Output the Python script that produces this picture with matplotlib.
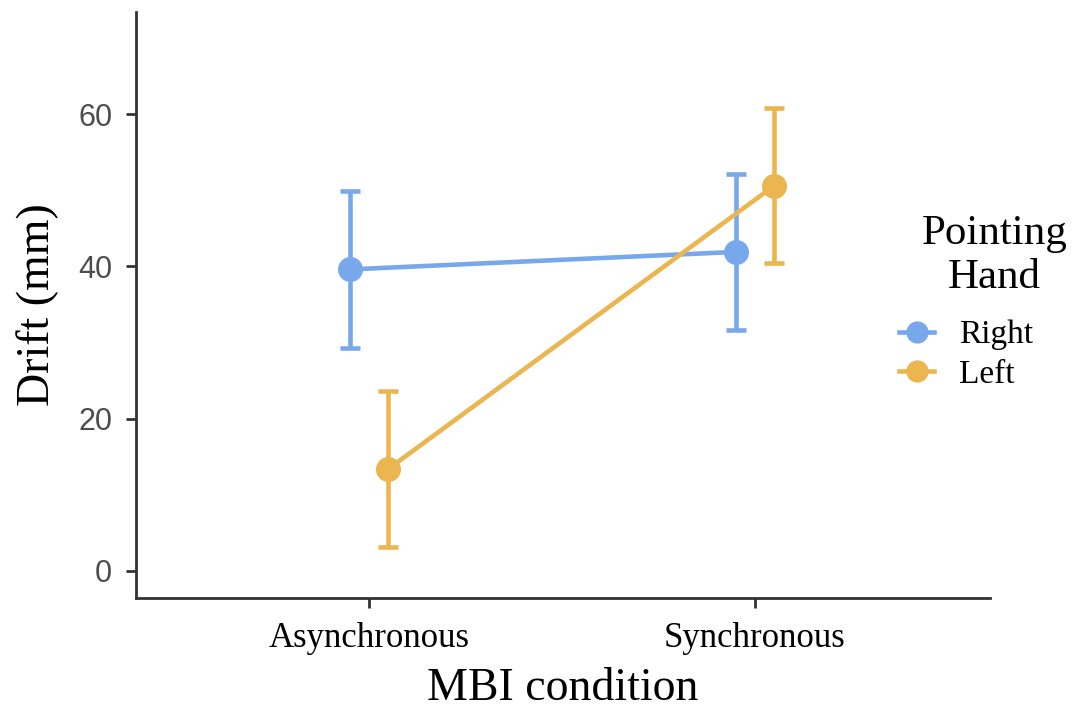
import numpy as np
import matplotlib.pyplot as plt
from matplotlib.lines import Line2D

# data
conditions = ["Asynchronous", "Synchronous"]
hands = ["Right", "Left"]
right_mean = [39.6, 41.9]
right_err = [10.3, 10.2]
left_mean = [13.4, 50.6]
left_err = [10.2, 10.2]

colors = {"Right": "#78A8EC", "Left": "#EBB54F"}
dodge = {"Right": -0.05, "Left": 0.05}
means = {"Right": right_mean, "Left": left_mean}
errs = {"Right": right_err, "Left": left_err}

serif = "Liberation Serif"
sans = "Liberation Sans"

fig = plt.figure(figsize=(10.73, 7.11), dpi=100)
ax = fig.add_axes([0.1267, 0.159, 0.7959, 0.824])

xpos = np.arange(1, len(conditions) + 1)
handles = []
for h in hands:
    x = xpos + dodge[h]
    ax.errorbar(x, means[h], yerr=errs[h], color=colors[h], lw=3.3, elinewidth=3.3,
                capsize=7, capthick=3.3, marker="o", ms=17, zorder=3)
    handles.append(Line2D([], [], color=colors[h], lw=3.3, marker="o", ms=15))

ax.set_xlim(0.396, 2.609)
ax.set_ylim(-3.55, 73.4)
ax.set_xticks(xpos)
ax.set_xticklabels(conditions, fontfamily=serif, fontsize=25, color="black")
ax.set_yticks([0, 20, 40, 60])
for lab in ax.get_yticklabels():
    lab.set_fontfamily(sans)
    lab.set_fontsize(22)
    lab.set_color("#4D4D4D")

for s in ["top", "right"]:
    ax.spines[s].set_visible(False)
for s in ["left", "bottom"]:
    ax.spines[s].set_color("#333333")
    ax.spines[s].set_linewidth(2)
ax.tick_params(length=7, width=2, color="#333333", pad=10)

ax.set_xlabel("MBI condition", fontfamily=serif, fontsize=33, labelpad=9.5)
ax.set_ylabel("Drift (mm)", fontfamily=serif, fontsize=33, labelpad=14)

# legend title drawn on its own so it can sit centred like the original
fig.text(0.927, 0.6406, "Pointing\nHand", ha="center", va="center",
         multialignment="center", linespacing=1.2,
         fontfamily=serif, fontsize=31)
fig.legend(handles, hands, loc="upper left", bbox_to_anchor=(0.838, 0.550),
           frameon=False, handlelength=1.05, handletextpad=0.75,
           borderpad=0, borderaxespad=0, labelspacing=0.26,
           prop={"family": serif, "size": 24})

fig.savefig("out.png", dpi=100)
